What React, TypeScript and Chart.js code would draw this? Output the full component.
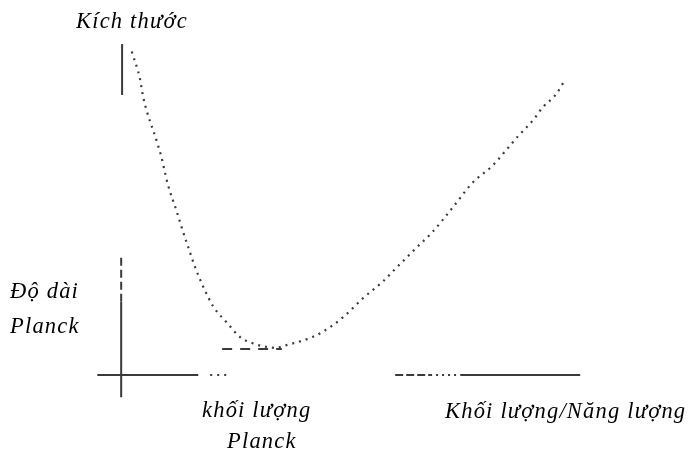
import React, { useEffect, useRef } from "react";
import { Chart, registerables } from "chart.js";

Chart.register(...registerables);

// Size vs mass curve (abstract units)
const curveX = [0.23, 0.41, 0.48, 0.78, 0.87, 1.02, 1.2, 1.33, 1.46, 1.61, 1.79, 2.0, 2.31, 2.59, 2.85, 3.07, 3.4, 3.46, 4.05, 4.38, 4.84, 5.27, 5.69, 6.01, 6.45, 6.78, 7.23, 7.67, 8.08, 8.41, 8.65, 8.98, 9.19, 9.46, 9.67];
const curveY = [9.8, 8.97, 8.42, 7.06, 6.64, 5.76, 5.0, 4.42, 3.88, 3.27, 2.67, 2.09, 1.58, 1.15, 0.97, 0.88, 0.82, 0.85, 1.09, 1.3, 1.76, 2.33, 2.82, 3.27, 3.88, 4.33, 5.09, 5.85, 6.33, 6.85, 7.24, 7.73, 8.12, 8.48, 8.94];

// Axis segments
const yAxisTopX = [0.02, 0.02];
const yAxisTopY = [10.03, 8.48];
const yAxisDashedY = [3.55, 2.21];
const yAxisSolidY = [2.21, -0.67];
const xAxisSolidX = [-0.52, 1.68];
const xAxisDotsX = [1.94, 2.37];
const xAxisDashedX = [5.97, 6.73];
const xAxisDotsX2 = [6.73, 7.39];
const xAxisSolidX2 = [7.39, 10.0];
const planckLengthX = [2.2, 3.5];
const planckLengthY = 0.79;

const labels = {
  size: "Kích thước",
  lengthA: "Độ dài",
  lengthB: "Planck",
  massA: "khối lượng",
  massB: "Planck",
  energy: "Khối lượng/Năng lượng",
};

const pts = (xs: number[], ys: number[]) => xs.map((x, i) => ({ x, y: ys[i] }));

export default function App() {
  const ref = useRef<HTMLCanvasElement>(null);
  useEffect(() => {
    document.body.style.margin = "0";
    const ink = "#3a3a3a";
    const seg = (data: any[], dash: number[], width = 2) => ({
      data,
      borderColor: ink,
      borderWidth: width,
      borderDash: dash,
      pointRadius: 0,
      showLine: true,
      tension: 0,
      fill: false,
    });
    const textPlugin = {
      id: "texts",
      afterDraw(chart: any) {
        const ctx = chart.ctx;
        ctx.save();
        ctx.fillStyle = "#000";
        ctx.font = "italic 22.5px 'Liberation Serif'";
        (ctx as any).letterSpacing = "1.2px";
        ctx.textBaseline = "alphabetic";
        ctx.textAlign = "left";
        ctx.fillText(labels.size, 76, 28);
        ctx.fillText(labels.lengthA, 10, 298);
        ctx.fillText(labels.lengthB, 10, 333);
        ctx.fillText(labels.massA, 202, 417);
        ctx.fillText(labels.massB, 227, 448);
        ctx.fillText(labels.energy, 445, 418);
        ctx.restore();
      },
    };
    const chart = new Chart(ref.current!, {
      type: "scatter",
      data: {
        datasets: [
          { ...seg(pts(curveX, curveY), [2, 5], 2.2), tension: 0.4, cubicInterpolationMode: "monotone" } as any,
          seg(pts(yAxisTopX, yAxisTopY), []),
          seg(pts([0, 0], yAxisDashedY), [8, 4]),
          seg(pts([0, 0], yAxisSolidY), []),
          seg(pts(xAxisSolidX, [0, 0]), []),
          seg(pts(xAxisDotsX, [0, 0]), [2, 5]),
          seg(pts(xAxisDashedX, [0, 0]), [8, 3]),
          seg(pts(xAxisDotsX2, [0, 0]), [2, 4]),
          seg(pts(xAxisSolidX2, [0, 0]), []),
          seg(pts(planckLengthX, [planckLengthY, planckLengthY]), [10, 8]),
        ],
      },
      options: {
        responsive: false,
        animation: false,
        layout: { padding: 0 },
        plugins: { legend: { display: false }, tooltip: { enabled: false } },
        scales: {
          x: { type: "linear", min: -2.64, max: 12.48, display: false },
          y: { type: "linear", min: -2.39, max: 11.36, display: false },
        },
      },
      plugins: [textPlugin],
    });
    return () => chart.destroy();
  }, []);
  return (
    <div style={{ position: "relative", width: 694, height: 454, background: "#fff" }}>
      <canvas ref={ref} width={694} height={454} />
    </div>
  );
}
